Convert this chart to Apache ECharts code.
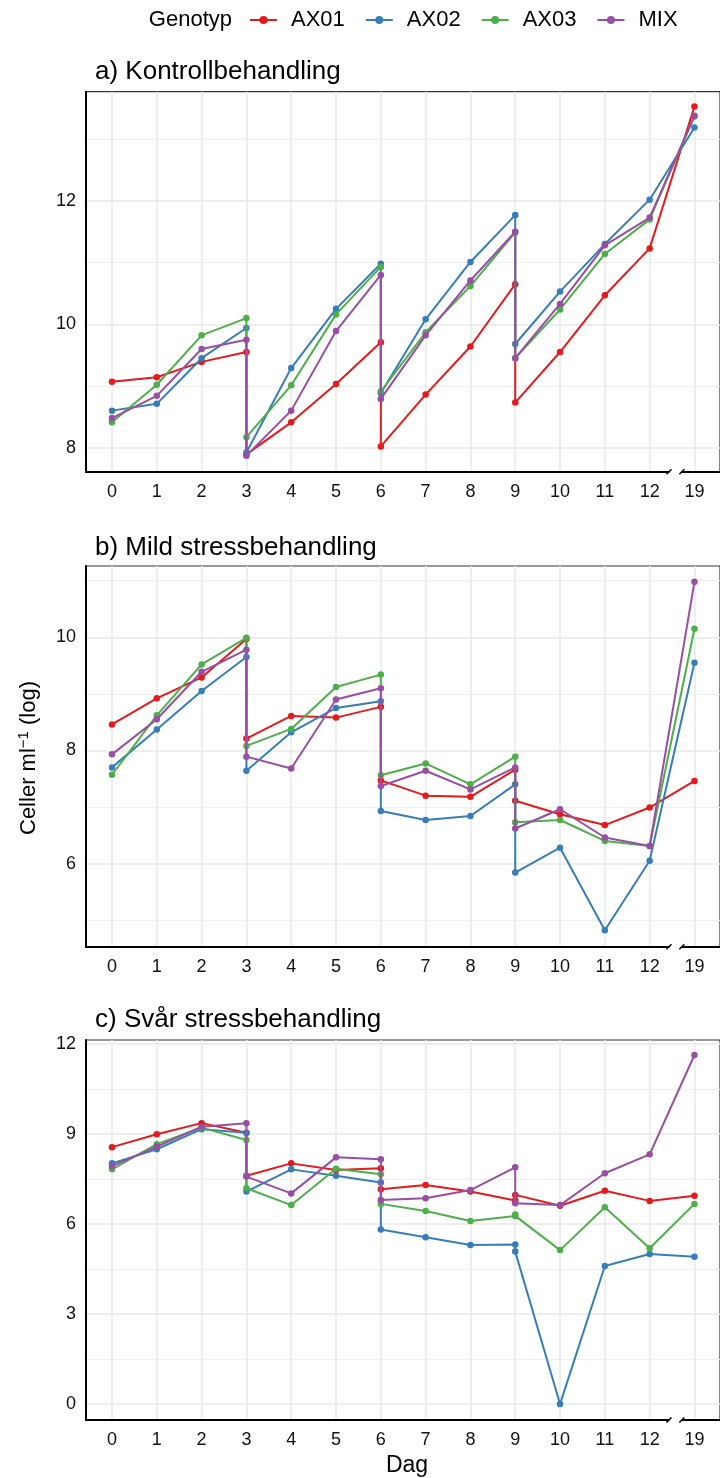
<!DOCTYPE html>
<html><head><meta charset="utf-8">
<script src="https://cdn.jsdelivr.net/npm/echarts@6/dist/echarts.min.js"></script>
<style>html,body{margin:0;padding:0;background:#fff}#c{width:720px;height:1478px}</style>
</head><body><div id="c"></div>
<script>
// ---- data ----
const dayTicks = [0,1,2,3,4,5,6,7,8,9,10,11,12,19];
const sampleDays = [0,1,2,3,3,4,5,6,6,7,8,9,9,10,11,12,19];
const genotypes = ['AX01','AX02','AX03','MIX'];
const panelTitles = ['a) Kontrollbehandling','b) Mild stressbehandling','c) Svår stressbehandling'];

const a_AX01 = [9.07, 9.14, 9.39, 9.55, 7.89, 8.41, 9.03, 9.71, 8.02, 8.86, 9.64, 10.65, 8.73, 9.55, 10.47, 11.23, 13.53];
const a_AX02 = [8.60, 8.71, 9.45, 9.94, 7.92, 9.29, 10.25, 10.98, 8.88, 10.08, 11.01, 11.77, 9.68, 10.53, 11.30, 12.02, 13.19];
const a_AX03 = [8.41, 9.02, 9.82, 10.10, 8.17, 9.01, 10.16, 10.93, 8.91, 9.87, 10.62, 11.49, 9.45, 10.24, 11.14, 11.70, 13.37];
const a_MIX  = [8.48, 8.84, 9.60, 9.75, 7.87, 8.60, 9.89, 10.80, 8.79, 9.82, 10.71, 11.50, 9.45, 10.33, 11.28, 11.73, 13.38];

const b_AX01 = [8.46, 8.92, 9.29, 9.97, 8.21, 8.61, 8.58, 8.77, 7.47, 7.20, 7.18, 7.66, 7.11, 6.87, 6.68, 6.99, 7.46];
const b_AX02 = [7.70, 8.37, 9.05, 9.65, 7.64, 8.32, 8.75, 8.87, 6.93, 6.77, 6.84, 7.40, 5.84, 6.28, 4.82, 6.05, 9.55];
const b_AX03 = [7.57, 8.62, 9.52, 9.99, 8.08, 8.38, 9.12, 9.34, 7.56, 7.77, 7.40, 7.89, 6.73, 6.77, 6.40, 6.31, 10.15];
const b_MIX  = [7.93, 8.55, 9.39, 9.78, 7.89, 7.68, 8.90, 9.10, 7.37, 7.64, 7.31, 7.70, 6.62, 6.96, 6.46, 6.31, 10.98];

const c_AX01 = [8.56, 8.99, 9.36, 9.04, 7.61, 8.02, 7.80, 7.86, 7.16, 7.30, 7.08, 6.78, 6.97, 6.61, 7.11, 6.77, 6.94];
const c_AX02 = [8.02, 8.49, 9.16, 9.04, 7.08, 7.82, 7.61, 7.38, 5.82, 5.56, 5.30, 5.32, 5.08, 0.00, 4.60, 5.00, 4.91];
const c_AX03 = [7.82, 8.66, 9.21, 8.80, 7.19, 6.63, 7.84, 7.66, 6.67, 6.43, 6.10, 6.27, 6.32, 5.13, 6.56, 5.19, 6.67];
const c_MIX  = [7.93, 8.58, 9.24, 9.36, 7.58, 7.02, 8.22, 8.16, 6.80, 6.86, 7.13, 7.89, 6.69, 6.63, 7.69, 8.32, 11.63];

const yMajorA = [8, 10, 12],        yMinorA = [9, 11, 13];
const yMajorB = [6, 8, 10],         yMinorB = [5, 7, 9, 11];
const yMajorC = [0, 3, 6, 9, 12],   yMinorC = [1.5, 4.5, 7.5, 10.5];

// ---- styling / layout ----
const colors = ['#E41A1C','#377EB8','#4DAF4A','#984EA3'];
const FONT = '"Liberation Sans", Arial, sans-serif';
const xMin = -0.58, xMax = 13.57;
const panels = [
  {title: panelTitles[0], data: [a_AX01,a_AX02,a_AX03,a_MIX], yMin: 7.61, yMax: 13.77, major: yMajorA, minor: yMinorA, top: 91.7, height: 380, titleY: 72},
  {title: panelTitles[1], data: [b_AX01,b_AX02,b_AX03,b_MIX], yMin: 4.53, yMax: 11.26, major: yMajorB, minor: yMinorB, top: 566, height: 380.7, titleY: 548},
  {title: panelTitles[2], data: [c_AX01,c_AX02,c_AX03,c_MIX], yMin: -0.53, yMax: 12.13, major: yMajorC, minor: yMinorC, top: 1040, height: 380, titleY: 1020}
];
const xPositions = dayTicks.map((d, i) => i);

const grid = [], xAxis = [], yAxis = [], series = [];
panels.forEach((p, pi) => {
  grid.push({left: 86, right: -9, top: p.top, height: p.height, show: true, borderColor: '#333', borderWidth: 1.2, backgroundColor: 'transparent'});
  xAxis.push({
    type: 'value', gridIndex: pi, min: xMin, max: xMax,
    axisLine: {show: true, onZero: false, lineStyle: {color: '#000', width: 2}},
    axisTick: {show: false, customValues: xPositions},
    axisLabel: {customValues: xPositions, formatter: v => String(dayTicks[Math.round(v)]), fontSize: 18, color: '#111', fontFamily: FONT, margin: 11},
    splitLine: {show: true, lineStyle: {color: '#e8e8e8', width: 1.5}}
  });
  yAxis.push({
    type: 'value', gridIndex: pi, min: p.yMin, max: p.yMax,
    axisLine: {show: true, onZero: false, lineStyle: {color: '#000', width: 2}},
    axisTick: {show: false, customValues: p.major},
    axisLabel: {customValues: p.major, fontSize: 18, color: '#111', fontFamily: FONT, margin: 10},
    splitLine: {show: true, lineStyle: {color: '#e8e8e8', width: 1.5}}
  });
  yAxis.push({
    type: 'value', gridIndex: pi, min: p.yMin, max: p.yMax,
    axisLine: {show: false}, axisLabel: {show: false},
    axisTick: {show: false, customValues: p.minor},
    splitLine: {show: true, lineStyle: {color: '#f0f0f0', width: 1}}
  });
  genotypes.forEach((g, gi) => {
    series.push({
      name: g, type: 'line', xAxisIndex: pi, yAxisIndex: pi * 2,
      data: sampleDays.map((d, k) => [dayTicks.indexOf(d), p.data[gi][k]]),
      symbol: 'circle', symbolSize: 6.5, showSymbol: true,
      lineStyle: {width: 2, color: colors[gi]},
      itemStyle: {color: colors[gi]},
      emphasis: {disabled: true}, animation: false, z: 3 + gi
    });
  });
});

const graphic = [
  {type: 'text', x: 232, y: 20, style: {text: 'Genotyp', fontSize: 22, fontFamily: FONT, fill: '#000', align: 'right', verticalAlign: 'middle'}},
  {type: 'text', x: 29, y: 758, rotation: Math.PI / 2, style: {
    text: '{a|Celler ml}{s|−1}{a| (log)}', align: 'center', verticalAlign: 'middle',
    rich: {a: {fontSize: 22, fontFamily: FONT, fill: '#000'}, s: {fontSize: 15, fontFamily: FONT, fill: '#000', verticalAlign: 'top', padding: [0,0,10,0]}}
  }},
  {type: 'text', x: 407, y: 1466, style: {text: 'Dag', fontSize: 23, fontFamily: FONT, fill: '#000', align: 'center', verticalAlign: 'middle'}}
];
panels.forEach(p => {
  graphic.push({type: 'text', x: 95, y: p.titleY, style: {text: p.title, fontSize: 26, fontFamily: FONT, fill: '#000', verticalAlign: 'middle'}});
});

const chart = echarts.init(document.getElementById('c'));
chart.setOption({
  animation: false,
  backgroundColor: '#fff',
  color: colors,
  legend: {
    data: genotypes, left: 249, top: 9, padding: 0, itemWidth: 27, itemHeight: 10, itemGap: 20,
    textStyle: {fontSize: 22, fontFamily: FONT, color: '#000', padding: [0, 0, 0, 9]},
    selectedMode: false
  },
  grid, xAxis, yAxis, series, graphic
});

// axis break marks between 12 and 19
const breakGraphics = [];
panels.forEach((p, pi) => {
  const yb = p.top + p.height;
  const xa = chart.convertToPixel({xAxisIndex: pi}, 12.42);
  const xb = chart.convertToPixel({xAxisIndex: pi}, 12.73);
  breakGraphics.push({type: 'rect', shape: {x: xa + 1, y: yb - 3, width: xb - xa - 2, height: 6}, style: {fill: '#fff'}, z: 100});
  breakGraphics.push({type: 'line', shape: {x1: xa - 2, y1: yb + 2.5, x2: xa + 3, y2: yb - 2.5}, style: {stroke: '#000', lineWidth: 1.5}, z: 101});
  breakGraphics.push({type: 'line', shape: {x1: xb - 3, y1: yb + 2.5, x2: xb + 2, y2: yb - 2.5}, style: {stroke: '#000', lineWidth: 1.5}, z: 101});
});
chart.setOption({graphic: graphic.concat(breakGraphics)});
</script></body></html>
